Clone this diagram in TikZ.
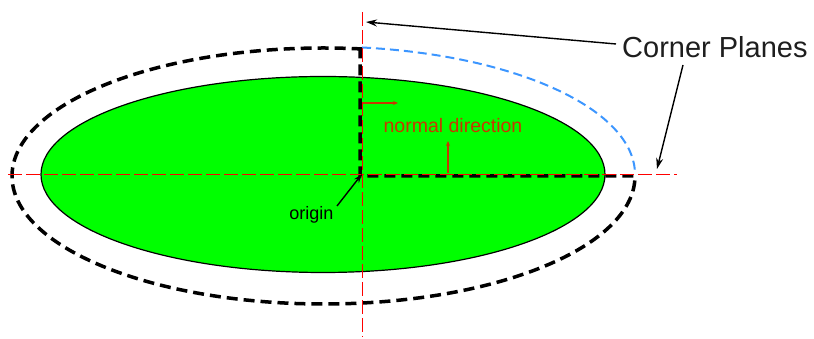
\documentclass[tikz,border=0pt]{standalone}
\usepackage{fontspec}
\setmainfont{Liberation Sans}
\usetikzlibrary{arrows.meta}
\definecolor{axisred}{RGB}{255,0,0}
\definecolor{normred}{RGB}{200,55,0}
\definecolor{planeblue}{RGB}{60,150,255}
\definecolor{labelgray}{RGB}{30,30,30}
\tikzset{
  axisline/.style={axisred, line width=1.3pt, dash pattern=on 14pt off 4pt},
  planeline/.style={black, line width=3.5pt, dash pattern=on 11pt off 6pt},
  hiddenplane/.style={planeblue, line width=2pt, dash pattern=on 9pt off 5pt},
  normarrow/.style={normred, line width=1.3pt, -{Stealth[length=5pt,width=4pt]}},
  callout/.style={black, line width=1.4pt, -{Stealth[length=11pt,width=7pt]}},
  lbl/.style={inner sep=0pt, anchor=base}
}
\begin{document}
\begin{tikzpicture}[x=1pt,y=1pt]
\useasboundingbox (0,0) rectangle (814,339);
% green body
\fill[green] (323,164.5) ellipse[x radius=282, y radius=98];
\draw[black, line width=1.2pt] (323,164.5) ellipse[x radius=282, y radius=98];
% corner planes (visible part)
\coordinate (ptop) at ({323.5+311.5*cos(82.9)},{164.5+128*sin(82.9)});
\coordinate (pright) at (635,163);
\draw[planeline] (360,{164.5+128*sin(82.9)}) -- (360,163) -- (pright)
  arc[start angle=0, end angle=-277.1, x radius=311.5, y radius=128];
% hidden quadrant
\draw[hiddenplane] (ptop) arc[start angle=82.9, end angle=0, x radius=311.5, y radius=128];
% axes
\coordinate (vtop) at (362.5,327);
\coordinate (vbot) at (362.5,2);
\coordinate (hleft) at (8,164.5);
\coordinate (hright) at (677,164.5);
\coordinate (origin) at (362,165);
\draw[axisline] (vtop) -- (vbot);
\draw[axisline] (hleft) -- (hright);
% normal directions
\coordinate (n1s) at (363,236);
\coordinate (n1e) at (398,236);
\coordinate (n2s) at (448,166);
\coordinate (n2e) at (448,198);
\draw[normarrow] (n1s) -- (n1e);
\draw[normarrow] (n2s) -- (n2e);
\node[lbl, normred, font=\fontsize{19.5}{22}\selectfont] (normal) at (453,206) {normal direction};
% labels and callouts
\node[lbl, labelgray, anchor=base west, font=\fontsize{29}{32}\selectfont] (corner) at (622,281) {Corner Planes};
\coordinate (tipA) at (366,317);
\coordinate (tipB) at (657,170);
\draw[callout] (616,295) -- (tipA);
\draw[callout] (683,274) -- (tipB);
\node[lbl, black, font=\fontsize{18}{21}\selectfont] (orig) at (311.5,119) {origin};
\coordinate (otail) at (337,133);
\draw[callout, -{Stealth[length=9pt,width=6pt]}] (otail) -- (origin);
\end{tikzpicture}
\end{document}
